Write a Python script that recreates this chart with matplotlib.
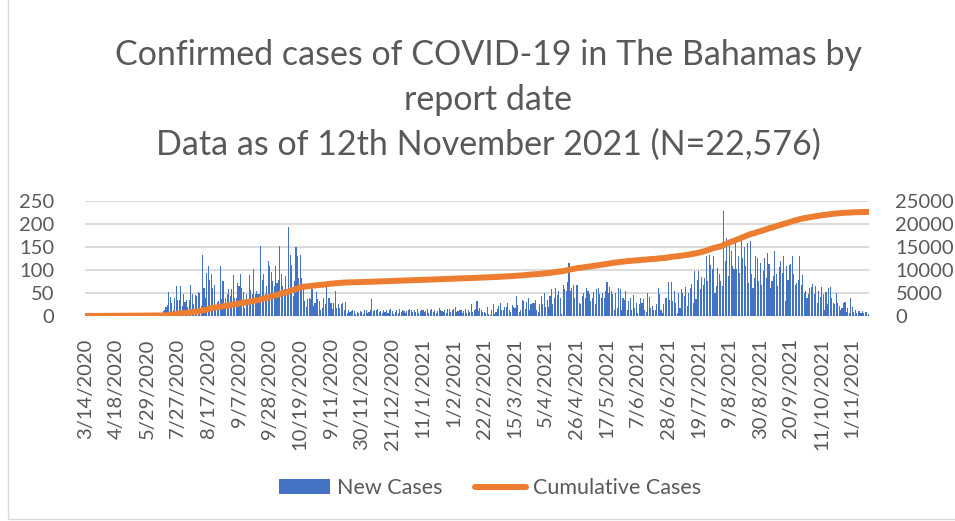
import matplotlib
matplotlib.use("Agg")
import matplotlib.pyplot as plt
import numpy as np
from matplotlib.patches import Rectangle

plt.rcParams['font.family'] = ['Lato', 'DejaVu Sans']

# daily new cases, one value per report date (category axis)
new_cases = [
    # Mar - early Jul 2020 (sparse report dates)
    1, 0, 2, 1, 3, 1, 2, 4, 2, 3, 1, 2, 5, 2, 3, 1, 2, 4, 3, 2, 1,
    2, 1, 3, 2, 1, 2, 1, 1, 2, 1, 3, 1, 2, 1, 1, 2, 1, 1, 2, 1, 1,
    1, 2, 1, 3, 2, 4, 6, 3, 5, 4, 7,
    # Jul - Sep 2020
    11, 14, 19, 24, 53, 41, 28, 14, 38, 64, 35, 34, 66, 22, 47, 30, 34, 20, 34, 68,
    47, 25, 45, 43, 52, 50, 22, 132, 61, 40, 94, 108, 79, 92, 61, 68, 18, 30, 32, 109,
    36, 76, 25, 40, 48, 58, 44, 59, 89, 38, 40, 72, 65, 91, 60, 53, 18, 47, 27, 89,
    56, 47, 101, 47,
    # Sep - Nov 2020
    54, 47, 47, 151, 79, 90, 47, 65, 119, 108, 96, 76, 65, 108, 72, 79, 151, 90, 65, 58,
    86, 48, 194, 133, 110, 43, 76, 149, 130, 83, 133, 83, 58, 32, 20, 36, 40, 36, 58, 22,
    29, 52, 36, 32, 14, 18, 40, 27, 67, 38, 40, 29, 15, 29, 54, 18, 25, 18, 25, 29,
    14, 30, 7, 12, 9, 11, 12, 11, 5, 8, 6, 10,
    # Nov 2020 - Feb 2021
    8, 5, 12, 13, 6, 9, 14, 36, 10, 14, 12, 15, 8, 11, 6, 14, 9, 13, 7, 12,
    16, 10, 5, 8, 13, 6, 15, 9, 14, 11, 7, 10, 14, 15, 12, 8, 13, 9, 15, 6,
    11, 13, 14, 8, 10, 16, 7, 12, 15, 9, 14, 6, 11, 18, 14, 10, 8, 13, 7, 15,
    15, 9, 12, 16, 20, 8, 11, 14, 14, 7, 10, 16, 6, 12, 9, 27, 8, 13, 15, 32,
    10, 17, 12, 9,
    # Feb - Jun 2021
    9, 7, 20, 5, 3, 12, 27, 5, 9, 16, 22, 29, 12, 14, 19, 19, 29, 14, 9, 23,
    20, 18, 43, 23, 9, 14, 34, 32, 16, 30, 40, 14, 27, 29, 29, 34, 14, 9, 25, 43,
    25, 50, 19, 35, 20, 43, 58, 25, 40, 61, 45, 54, 38, 5, 68, 58, 54, 74, 114, 54,
    61, 67, 38, 67, 67, 29, 25, 44, 50, 40, 61, 54, 47, 32, 40, 52, 25, 58, 60, 47,
    38, 50, 40, 54, 74, 50, 62, 54, 48,
    # Jun - Aug 2021
    14, 50, 18, 60, 58, 14, 40, 34, 54, 14, 32, 38, 14, 45, 17, 29, 7, 25, 38, 29,
    36, 14, 9, 50, 42, 18, 22, 12, 14, 25, 60, 48, 14, 7, 27, 40, 38, 74, 34, 74,
    32, 55, 29, 7, 50, 18, 58, 50, 43, 62, 22, 50, 60, 70, 29, 97, 36, 79, 97, 58,
    85, 68, 83, 130, 76, 133, 110, 101, 130, 50, 65, 105, 90, 76, 65, 227, 119, 169, 86, 151,
    140, 108, 101, 166, 101, 130,
    # Aug - Nov 2021
    94, 162, 126, 149, 108, 158, 72, 162, 90, 61, 83, 130, 126, 76, 115, 68, 97, 126, 83, 137,
    112, 61, 76, 86, 140, 90, 65, 106, 119, 94, 130, 32, 108, 79, 110, 112, 130, 90, 68, 72,
    77, 130, 68, 88, 50, 54, 40, 47, 60, 63, 70, 47, 65, 29, 54, 41, 63, 47, 14, 53,
    25, 60, 63, 38, 29, 25, 50, 29, 22, 14, 18, 29, 30, 9, 18, 7, 38, 20, 9, 12,
    7, 11, 10, 7, 11, 7, 8, 9, 5,
]

tick_labels = [
    "3/14/2020", "4/18/2020", "5/29/2020", "7/27/2020", "8/17/2020", "9/7/2020",
    "9/28/2020", "10/19/2020", "9/11/2020", "30/11/2020", "21/12/2020", "11/1/2021",
    "1/2/2021", "22/2/2021", "15/3/2021", "5/4/2021", "26/4/2021", "17/5/2021",
    "7/6/2021", "28/6/2021", "19/7/2021", "9/8/2021", "30/8/2021", "20/9/2021",
    "11/10/2021", "1/11/2021",
]

title_lines = ["Confirmed cases of COVID-19 in The Bahamas by",
               "report date",
               "Data as of 12th November 2021 (N=22,576)"]

cumulative = np.cumsum(new_cases)
x = np.arange(len(new_cases))

txt = "#595959"
fig = plt.figure(figsize=(9.55, 5.21), dpi=100)
ax = fig.add_axes([0.089, 0.3935, 0.821, 0.2213])
ax2 = ax.twinx()

ax.bar(x, new_cases, width=0.75, color="#4472C4", label="New Cases", zorder=2)
ax2.plot(x, cumulative, color="#ED7D31", lw=4.3, solid_capstyle="round",
         label="Cumulative Cases")

ax.set_xlim(-0.5, len(new_cases) - 0.5)
ax.set_ylim(0, 250)
ax.set_yticks(range(0, 251, 50))
ax2.set_ylim(0, 25000)
ax2.set_yticks(range(0, 25001, 5000))
ax.set_xticks(range(0, len(new_cases), 21))
ax.set_xticklabels(tick_labels, rotation=90, ha="center", va="top")

ax.yaxis.grid(True, color="#d9d9d9", lw=1.3)
ax.set_axisbelow(True)
for a in (ax, ax2):
    for s in a.spines.values():
        s.set_visible(False)
    a.tick_params(length=0, labelsize=14.5, labelcolor=txt)
ax.tick_params(axis="y", pad=22)
ax2.tick_params(axis="y", pad=19)
ax.tick_params(axis="x", pad=16)

for yc, line in zip([55, 100, 145], title_lines):
    fig.text(0.511, 1 - yc / 521, line, ha="center", va="center",
             fontsize=24.5, color=txt)

h1, l1 = ax.get_legend_handles_labels()
h2, l2 = ax2.get_legend_handles_labels()
fig.legend(h1 + h2, l1 + l2, loc="center", bbox_to_anchor=(0.513, 0.063),
           ncol=2, frameon=False, fontsize=15.5, labelcolor=txt,
           handlelength=2.4, handleheight=0.7, handletextpad=0.3, columnspacing=1.5)

fig.patches.append(Rectangle((8 / 955, 0.004), 1.2, 1.2, transform=fig.transFigure,
                             fill=False, edgecolor="#d9d9d9", lw=1))

fig.savefig("out.png", dpi=100)
